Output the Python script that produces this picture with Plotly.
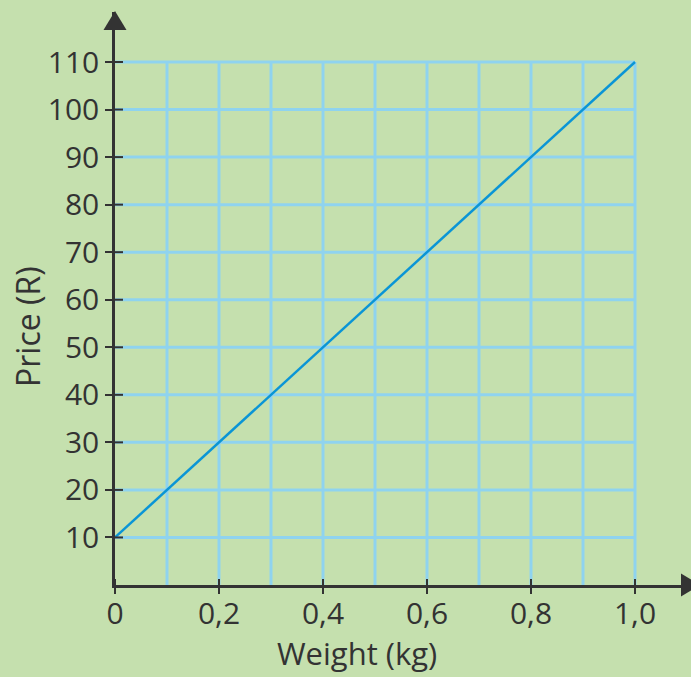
import plotly.graph_objects as go

# Data
weight_kg = [0.0, 1.0]
price_r = [10, 110]
x_tickvals = [0, 0.2, 0.4, 0.6, 0.8, 1.0]
x_ticktext = ["0", "0,2", "0,4", "0,6", "0,8", "1,0"]
y_tickvals = [10, 20, 30, 40, 50, 60, 70, 80, 90, 100, 110]
x_grid = [0.1, 0.2, 0.3, 0.4, 0.5, 0.6, 0.7, 0.8, 0.9, 1.0]
y_grid = [10, 20, 30, 40, 50, 60, 70, 80, 90, 100, 110]

W, H = 691, 677
ML, MR, MT, MB = 115, 0, 12, 92
PW, PH = W - ML - MR, H - MT - MB
BG = "#c5e0ae"
GRID = "#8fd3ef"
AX = "#333333"
LINE = "#0a95d6"
FONT = "Open Sans"

xmax = PW / 520.0
ymax = PH / ((H - MB - 62) / 110.0)
pxx = 1.0 / 520.0                   # data units per pixel (x)
pxy = 110.0 / (H - MB - 62)         # data units per pixel (y)


def px_to_paper(px, py):
    return (px - ML) / PW, (H - MB - py) / PH


fig = go.Figure()
fig.add_trace(go.Scatter(x=weight_kg, y=price_r, mode="lines",
                         line=dict(color=LINE, width=2.5), showlegend=False,
                         cliponaxis=False))

shapes = []
for gx in x_grid:
    shapes.append(dict(type="line", xref="x", yref="y", x0=gx, x1=gx, y0=0, y1=max(y_grid),
                       line=dict(color=GRID, width=3), layer="below"))
for gy in y_grid:
    shapes.append(dict(type="line", xref="x", yref="y", x0=0, x1=max(x_grid), y0=gy, y1=gy,
                       line=dict(color=GRID, width=3), layer="below"))
# inside parts of ticks
for ty in y_tickvals:
    shapes.append(dict(type="line", xref="x", yref="y", x0=0, x1=8 * pxx, y0=ty, y1=ty,
                       line=dict(color=AX, width=2), layer="above"))
for tx in x_tickvals:
    shapes.append(dict(type="line", xref="x", yref="y", x0=tx, x1=tx, y0=0, y1=6 * pxy,
                       line=dict(color=AX, width=2), layer="above"))
# arrowheads (paper coords, not clipped)
a = px_to_paper(103.5, 30)
b = px_to_paper(126.5, 30)
c = px_to_paper(115, 11)
shapes.append(dict(type="path", xref="paper", yref="paper",
                   path=f"M {a[0]} {a[1]} L {b[0]} {b[1]} L {c[0]} {c[1]} Z",
                   fillcolor=AX, line=dict(width=0), layer="above"))
a = px_to_paper(681, 573.5)
b = px_to_paper(681, 596.5)
c = px_to_paper(700, 585)
shapes.append(dict(type="path", xref="paper", yref="paper",
                   path=f"M {a[0]} {a[1]} L {b[0]} {b[1]} L {c[0]} {c[1]} Z",
                   fillcolor=AX, line=dict(width=0), layer="above"))

fig.update_layout(
    width=W, height=H,
    margin=dict(l=ML, r=MR, t=MT, b=MB, pad=0),
    paper_bgcolor=BG, plot_bgcolor=BG,
    font=dict(family=FONT, color=AX, size=30),
    shapes=shapes,
    xaxis=dict(range=[0, xmax], tickvals=x_tickvals, ticktext=x_ticktext,
               showgrid=False, zeroline=False, showline=True, linecolor=AX, linewidth=2.5,
               ticks="outside", ticklen=6, tickwidth=2, tickcolor=AX, ticklabelstandoff=-6,
               tickfont=dict(size=30, color=AX, family=FONT)),
    yaxis=dict(range=[0, ymax], tickvals=y_tickvals,
               showgrid=False, zeroline=False, showline=True, linecolor=AX, linewidth=2.5,
               ticks="outside", ticklen=7, tickwidth=2, tickcolor=AX,
               tickfont=dict(size=30, color=AX, family=FONT)),
    annotations=[
        dict(text="Weight (kg)", xref="paper", yref="paper", x=(357 - ML) / PW,
             y=-(676 - (H - MB)) / PH, xanchor="center", yanchor="bottom",
             showarrow=False, font=dict(size=31, color=AX, family=FONT)),
        dict(text="Price (R)", xref="paper", yref="paper", x=-(ML - 27) / PW,
             y=(H - MB - 327) / PH, xanchor="center", yanchor="middle",
             textangle=-90, showarrow=False, font=dict(size=32, color=AX, family=FONT)),
    ],
)

fig.write_html("out.html", config={"displayModeBar": False},
               post_script="document.body.style.margin='0';document.body.style.background='%s';" % BG)
